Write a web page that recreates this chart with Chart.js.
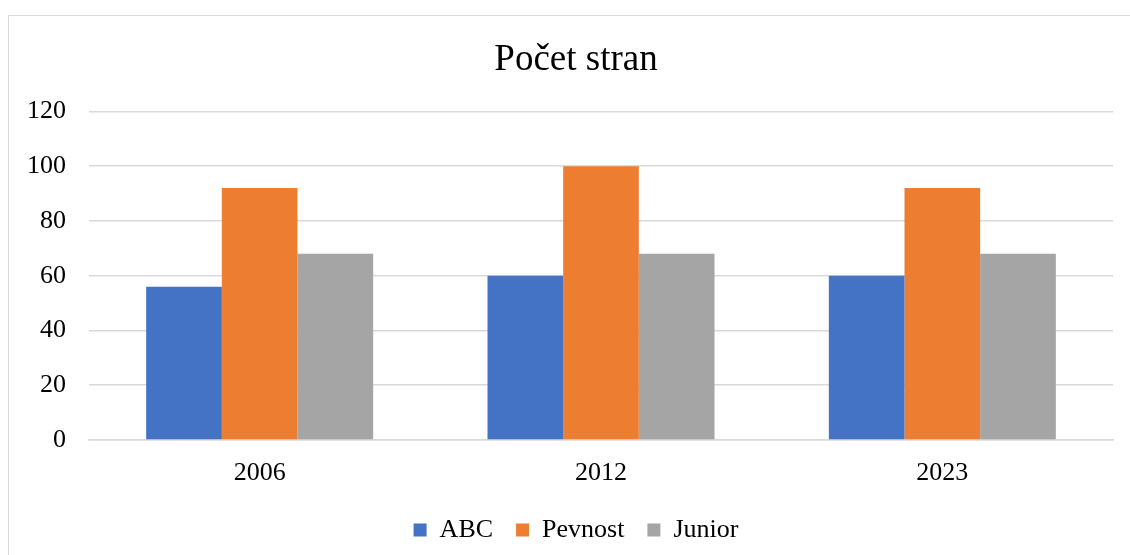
<!DOCTYPE html>
<html>
<head>
<meta charset="utf-8">
<script src="https://cdn.jsdelivr.net/npm/chart.js@4.4.1/dist/chart.umd.min.js"></script>
<style>
  html, body { margin: 0; padding: 0; background: #fff; overflow: hidden; }
  #frame { position: absolute; left: 8px; top: 15px; width: 1140px; height: 600px; border: 1.5px solid #d9d9d9; box-sizing: border-box; }
  #wrap { position: absolute; left: 0; top: 0; width: 1130px; height: 555px; }
</style>
</head>
<body>
<div id="frame"></div>
<div id="wrap"><canvas id="chart"></canvas></div>
<script>
const categories = ['2006', '2012', '2023'];
const abcValues = [56, 60, 60];
const pevnostValues = [92, 100, 92];
const juniorValues = [68, 68, 68];
const yTicks = { min: 0, max: 120, step: 20 };

const serif = '"Liberation Serif", "Times New Roman", serif';

// y labels stick out into the left padding; widen the label clip so they are not cut
const unclipYLabels = {
  id: 'unclipYLabels',
  afterLayout(chart) {
    chart.scales.y.left = 0;
  }
};

new Chart(document.getElementById('chart'), {
  type: 'bar',
  data: {
    labels: categories,
    datasets: [
      { label: 'ABC', data: abcValues, backgroundColor: '#4472c4' },
      { label: 'Pevnost', data: pevnostValues, backgroundColor: '#ed7d31' },
      { label: 'Junior', data: juniorValues, backgroundColor: '#a5a5a5' }
    ]
  },
  plugins: [unclipYLabels],
  options: {
    responsive: true,
    maintainAspectRatio: false,
    animation: false,
    datasets: {
      bar: { barPercentage: 1, categoryPercentage: 0.665, borderWidth: 0 }
    },
    // left padding keeps title/legend centred on the whole frame, as in the original
    layout: { padding: { left: 39, right: 17, top: 0, bottom: 2 } },
    scales: {
      y: {
        min: yTicks.min,
        max: yTicks.max,
        ticks: { stepSize: yTicks.step, color: '#000', font: { family: serif, size: 26 }, padding: 23 },
        grid: { color: '#d9d9d9', lineWidth: 1.5, drawTicks: false },
        border: { display: false },
        afterFit: (scale) => { scale.width = 50; }
      },
      x: {
        ticks: { color: '#000', font: { family: serif, size: 26 }, padding: 18 },
        grid: { display: false, drawTicks: false },
        border: { color: '#d9d9d9', width: 1.5 },
        afterFit: (scale) => { scale.height = 54; }
      }
    },
    plugins: {
      title: {
        display: true,
        text: 'Počet stran',
        color: '#000',
        font: { family: serif, size: 37, weight: 'normal' },
        padding: { top: 38, bottom: 29 }
      },
      legend: {
        position: 'bottom',
        labels: {
          color: '#000',
          font: { family: serif, size: 26 },
          boxWidth: 13,
          boxHeight: 13,
          padding: 23
        }
      },
      tooltip: { enabled: false }
    }
  }
});
</script>
</body>
</html>
